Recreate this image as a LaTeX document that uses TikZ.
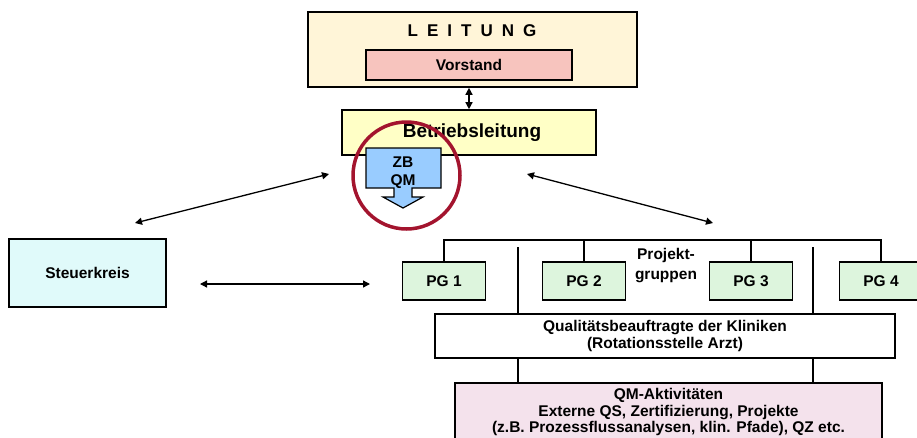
\documentclass[tikz,border=0pt]{standalone}
\usepackage{fontspec}
\setmainfont{Liberation Sans}
\usetikzlibrary{arrows.meta}
\definecolor{lgcream}{HTML}{FFF5D8}
\definecolor{lgpink}{HTML}{F7C4BE}
\definecolor{lgyellow}{HTML}{FFFFC6}
\definecolor{lgblue}{HTML}{99CCFF}
\definecolor{lgred}{HTML}{A3142E}
\definecolor{lgcyan}{HTML}{E0FAFA}
\definecolor{lggreen}{HTML}{DDF5DD}
\definecolor{lgrose}{HTML}{F4E2EC}

\begin{document}
\begin{tikzpicture}[x=1pt, y=-1pt,
  every node/.style={font=\fontsize{15.5}{16.5}\selectfont\bfseries},
  unit/.style={rectangle, draw, line width=1.6pt, inner sep=0pt, align=center},
  link/.style={line width=1.6pt},
  dbl/.style={{Triangle[length=7pt,width=7pt]}-{Triangle[length=7pt,width=7pt]}, line width=1.3pt},
]
\useasboundingbox (0,0) rectangle (917,437);

% Leitung
\node[unit, fill=lgcream, minimum width=329pt, minimum height=75pt] (leitung) at (472.5, 49.5) {};
\node[font=\fontsize{17}{19}\selectfont\bfseries] (leitungtitle) at (472, 31) {\spaceskip=9pt\relax L E I T U N G};
\node[unit, fill=lgpink, minimum width=206pt, minimum height=30pt] (vorstand) at (469, 65) {Vorstand};
\node[unit, fill=lgyellow, minimum width=254pt, minimum height=45pt, font=\fontsize{19}{21}\selectfont\bfseries] (betrieb) at (469, 132.5) {\hspace*{6pt}Betriebsleitung};
\draw[dbl] (betrieb.north |- leitung.south) -- (betrieb.north);

% ZB QM
\draw[line width=1.2pt, fill=lgblue] (366,148) -- (441,148) -- (441,188) -- (412,188) -- (412,197) -- (423,197)
  -- (403,208) -- (383,197) -- (394,197) -- (394,188) -- (366,188) -- cycle;
\node[align=center, font=\fontsize{15.5}{18}\selectfont\bfseries] (zbqm) at (403,172.5) {ZB\\QM};
\node[circle, draw=lgred, line width=3.5pt, minimum size=107pt, inner sep=0pt] (ring) at (406.5,175.5) {};

% Steuerkreis
\node[unit, fill=lgcyan, minimum width=157pt, minimum height=68pt] (steuer) at (87.5, 273) {Steuerkreis};

% Arrows
\coordinate (dl1) at (135,223);
\coordinate (dl2) at (329,174);
\coordinate (dr1) at (527,174);
\coordinate (dr2) at (713,223);
\coordinate (hl1) at (200,284);
\coordinate (hl2) at (370,284);
\draw[dbl] (dl1) -- (dl2);
\draw[dbl] (dr1) -- (dr2);
\draw[dbl] (hl1) -- (hl2);

% Projektgruppen
\node[unit, fill=lggreen, minimum width=83pt, minimum height=38pt] (pg1) at (444,281) {PG 1};
\node[unit, fill=lggreen, minimum width=83pt, minimum height=38pt] (pg2) at (584,281) {PG 2};
\node[unit, fill=lggreen, minimum width=83pt, minimum height=38pt] (pg3) at (751,281) {PG 3};
\node[unit, fill=lggreen, minimum width=83pt, minimum height=38pt] (pg4) at (881,281) {PG 4};
\coordinate (bar) at (0,240);
\draw[link] (pg1.north) -- (pg1.north |- bar) -- (pg4.north |- bar) -- (pg4.north);
\foreach \pg in {pg2, pg3}
  \draw[link] (\pg.north) -- (\pg.north |- bar);
\node[align=center, font=\fontsize{15.5}{20}\selectfont\bfseries] (projekt) at (666,266) {Projekt-\\gruppen};

% Qualitaetsbeauftragte and QM
\node[unit, fill=white, minimum width=460pt, minimum height=44pt] (qb) at (665,336) {Qualitätsbeauftragte der Kliniken\\(Rotationsstelle Arzt)};
\node[unit, fill=lgrose, minimum width=427pt, minimum height=62pt] (qm) at (668.5,414) {};
\node[anchor=north, align=center, inner sep=5pt] (qmtext) at ([yshift=-1pt]qm.north) {QM-Aktivitäten\\Externe QS, Zertifizierung, Projekte\\(z.B. Prozessflussanalysen, klin. Pfade), QZ etc.};
\coordinate (vl) at (518,247);
\coordinate (vr) at (813,247);
\foreach \v in {vl, vr} {
  \draw[link] (\v) -- (\v |- qb.north);
  \draw[link] (\v |- qb.south) -- (\v |- qm.north);
}

\end{tikzpicture}
\end{document}
